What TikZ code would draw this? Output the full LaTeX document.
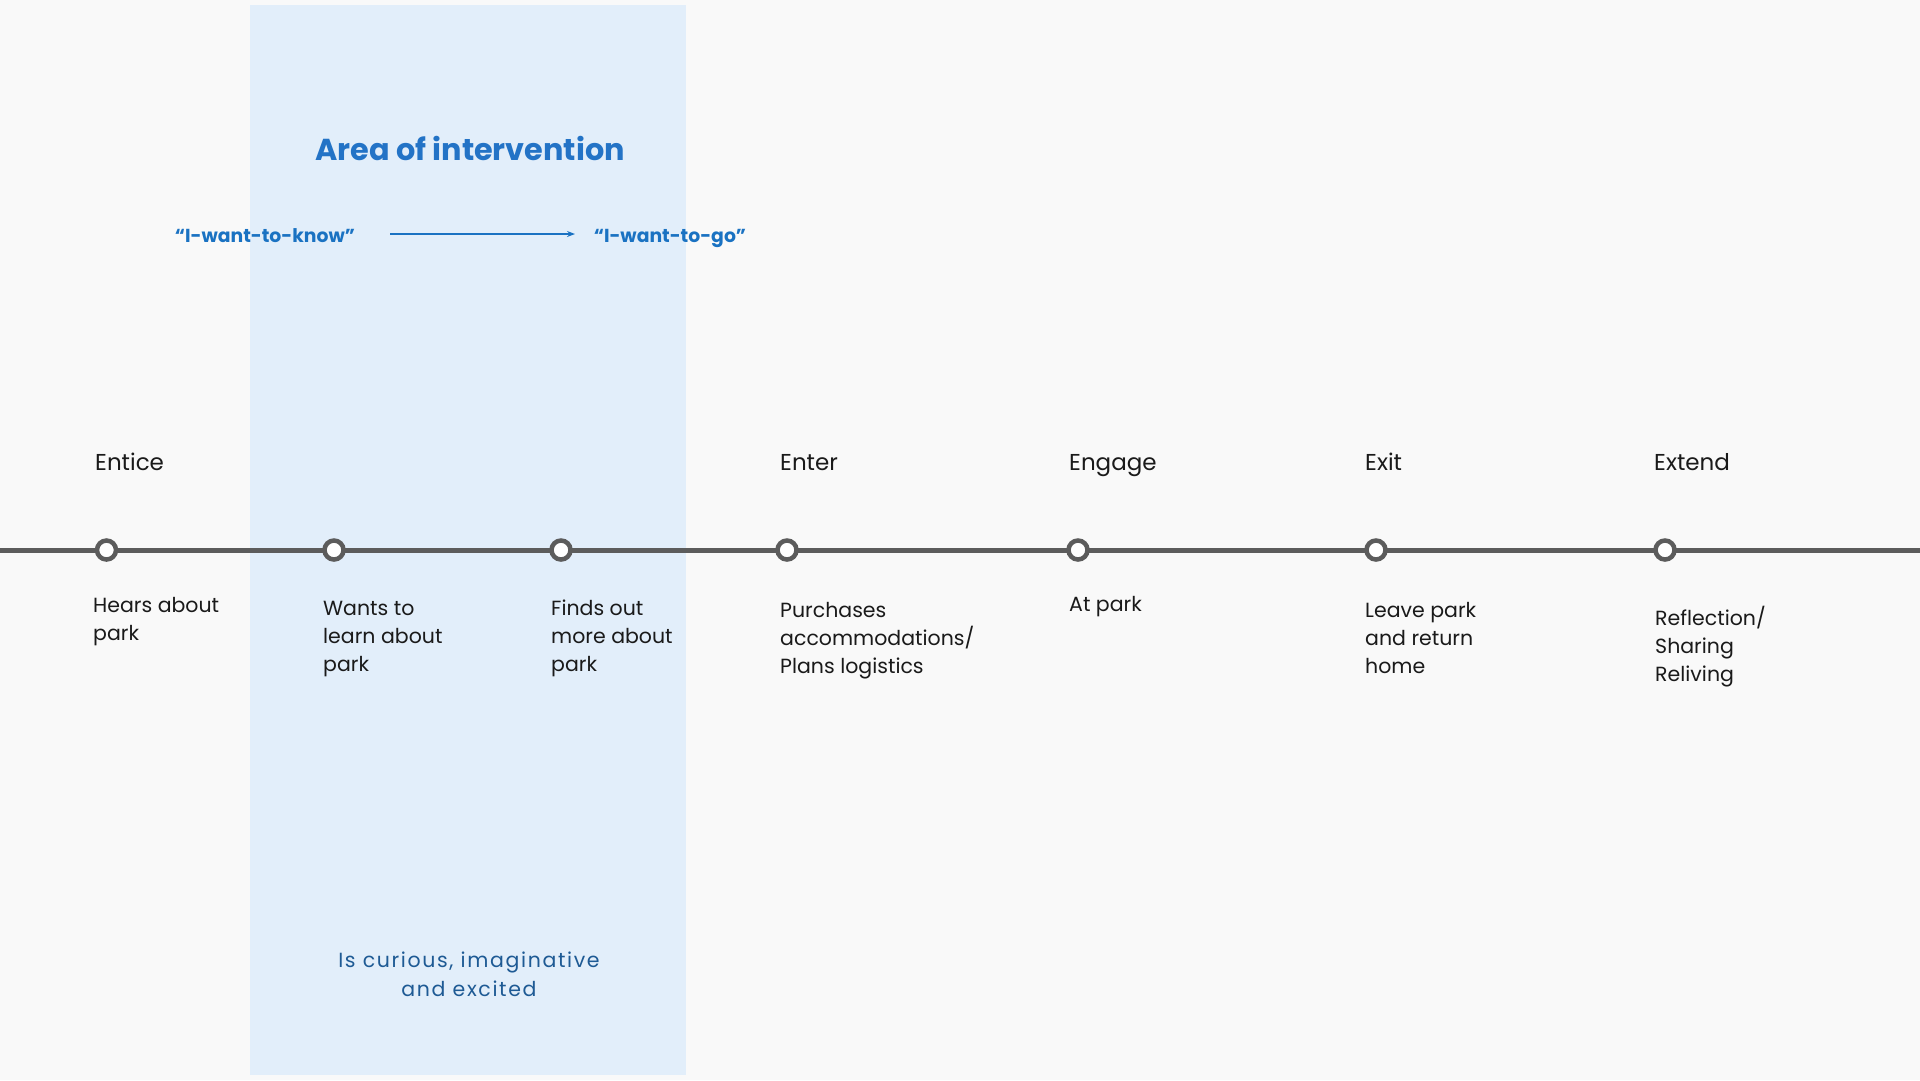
\documentclass[tikz,border=0pt]{standalone}
\usepackage{fontspec}
\setmainfont{Poppins}
\usetikzlibrary{arrows.meta}
\definecolor{bgc}{HTML}{F9F9F9}
\definecolor{bandc}{HTML}{E2EEFA}
\definecolor{titlec}{HTML}{2373C6}
\definecolor{quotec}{HTML}{1A72C2}
\definecolor{moodc}{HTML}{1E5A94}
\definecolor{linec}{HTML}{5C5C5C}
\definecolor{textc}{HTML}{1A1A1A}
\tikzset{
  stage/.style={anchor=base west, inner sep=0pt, text=textc, font=\fontsize{23}{28}\selectfont},
  desc/.style={anchor=base west, inner sep=0pt, text=textc, align=left, font=\fontsize{20.5}{28}\selectfont},
  dot/.style={circle, draw=linec, line width=4.5pt, fill=white, minimum size=19pt, inner sep=0pt},
  quote/.style={anchor=base, inner sep=0pt, text=quotec, font=\fontsize{18.8}{24}\selectfont\bfseries},
}
\begin{document}
\begin{tikzpicture}[x=1pt,y=-1pt]
\useasboundingbox (0,0) rectangle (1920,1080);
\fill[bgc] (0,0) rectangle (1920,1080);
\fill[bandc] (250,5) rectangle (686,1075);
% title
\node[anchor=base, inner sep=0pt, text=titlec, font=\fontsize{30.3}{34}\selectfont\bfseries] (title) at (470,160) {Area of intervention};
\node[quote] (know) at (265,242) {``I-want-to-know''};
\node[quote] (go) at (670,242) {``I-want-to-go''};
\coordinate (a1) at (390,234);
\coordinate (a2) at (575,234);
\draw[quotec, line width=1.6pt, -{Stealth[length=8pt,width=6pt]}] (a1) -- (a2);
% timeline
\coordinate (ls) at (0,550);
\coordinate (le) at (1920,550);
\draw[linec, line width=5pt] (ls) -- (le);
\node[dot] (d1) at (106.5,550) {};
\node[dot] (d2) at (334,550) {};
\node[dot] (d3) at (561,550) {};
\node[dot] (d4) at (787,550) {};
\node[dot] (d5) at (1078,550) {};
\node[dot] (d6) at (1376,550) {};
\node[dot] (d7) at (1665,550) {};
% stages
\node[stage] (s1) at (95,470) {Entice};
\node[stage] (s4) at (780,470) {Enter};
\node[stage] (s5) at (1069,470) {Engage};
\node[stage] (s6) at (1365,470) {Exit};
\node[stage] (s7) at (1654,470) {Extend};
% descriptions (base anchor = last line baseline)
\node[desc] (t1) at (93,640.5) {Hears about\\park};
\node[desc] (t2) at (323,671) {Wants to\\learn about\\park};
\node[desc] (t3) at (551,671) {Finds out\\more about\\park};
\node[desc] (t4) at (780,673) {Purchases\\accommodations/\\Plans logistics};
\node[desc] (t5) at (1069,611) {At park};
\node[desc] (t6) at (1365,673) {Leave park\\and return\\home};
\node[desc] (t7) at (1655,681) {Reflection/\\Sharing\\Reliving};
% mood
\node[anchor=base, inner sep=0pt, text=moodc, align=center, font=\fontsize{20.5}{28.3}\selectfont\addfontfeature{LetterSpace=8}] (mood) at (469,996) {Is curious, imaginative\\and excited};
\end{tikzpicture}
\end{document}
